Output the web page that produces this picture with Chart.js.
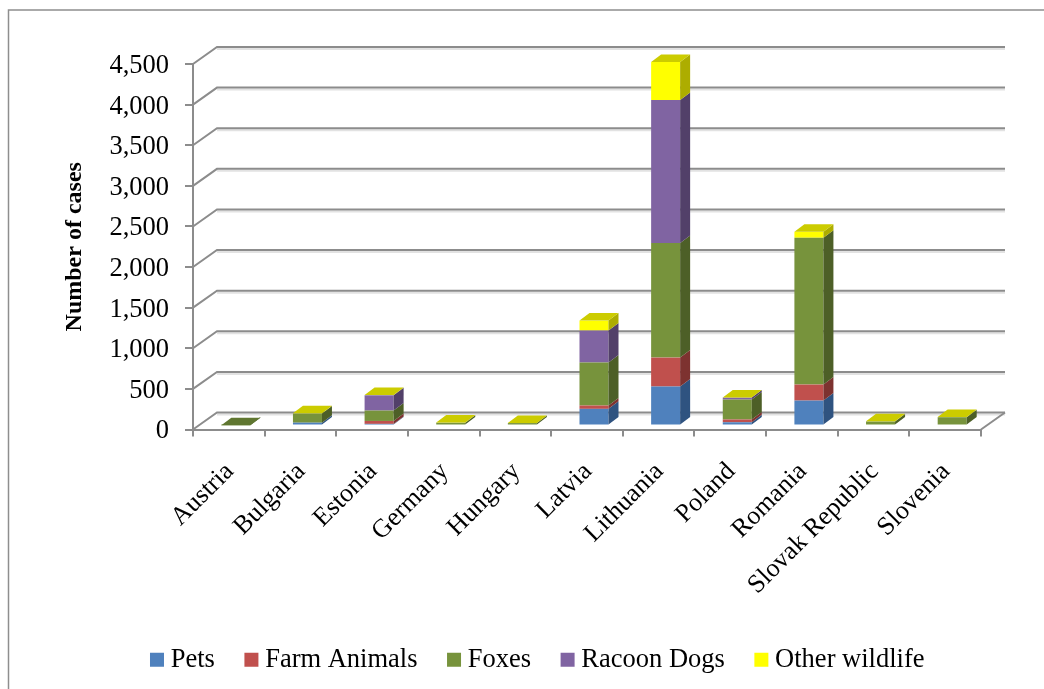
<!DOCTYPE html>
<html>
<head>
<meta charset="utf-8">
<style>
  html, body { margin: 0; padding: 0; background: #fff; overflow: hidden; }
  canvas { display: block; }
</style>
<script src="https://cdn.jsdelivr.net/npm/chart.js@4/dist/chart.umd.min.js"></script>
</head>
<body>
<canvas id="chart" width="1044" height="689"></canvas>
<script>
const categories = ['Austria', 'Bulgaria', 'Estonia', 'Germany', 'Hungary', 'Latvia', 'Lithuania', 'Poland', 'Romania', 'Slovak Republic', 'Slovenia'];
const pets = [0, 35, 20, 0, 0, 205, 480, 40, 307, 0, 0];
const farmAnimals = [0, 0, 36, 0, 0, 41, 356, 34, 197, 0, 0];
const foxes = [3, 113, 128, 35, 30, 530, 1412, 245, 1808, 50, 102];
const racoonDogs = [0, 0, 188, 0, 0, 393, 1760, 25, 0, 0, 0];
const otherWildlife = [0, 2, 2, 2, 2, 123, 467, 2, 73, 2, 2];

// face colours: front, side, top
const palette = {
  pets: ['#4F81BD', '#2F5380', '#3F6797'],
  farm: ['#C0504D', '#7D3230', '#9A403E'],
  foxes: ['#77933C', '#4D5F27', '#5F7630'],
  racoon: ['#8064A2', '#524069', '#665082'],
  other: ['#FFFF00', '#ADAD00', '#CCCC00']
};

// depth of the 3D box and of the whole plot
const barDepth = { x: 10, y: -7.5 };
const barShift = { x: 7, y: -4 };
const wallDepth = { x: 24, y: -17 };
const gridColor = '#8C8C8C';

function poly(ctx, pts, color) {
  ctx.fillStyle = color;
  ctx.beginPath();
  pts.forEach((p, i) => i ? ctx.lineTo(p[0], p[1]) : ctx.moveTo(p[0], p[1]));
  ctx.closePath();
  ctx.fill();
}

const frame3d = {
  id: 'frame3d',
  afterLayout(chart) {
    // legend sits right of centre in the original
    chart.legend.left += 20;
    chart.legend.right += 20;
    chart.legend.top += 2;
    chart.legend.bottom += 2;
  },
  beforeDraw(chart) {
    const { ctx } = chart;
    // the page frame only shows on the top and left
    ctx.save();
    ctx.strokeStyle = '#8E8E8E';
    ctx.lineWidth = 1.5;
    ctx.beginPath();
    ctx.moveTo(8.5, 689);
    ctx.lineTo(8.5, 10);
    ctx.lineTo(1044, 10);
    ctx.stroke();
    ctx.restore();
  },
  beforeDatasetsDraw(chart) {
    const { ctx, chartArea: a, scales: { y } } = chart;
    ctx.save();
    ctx.lineWidth = 2;
    y.ticks.forEach(t => {
      const py = y.getPixelForValue(t.value);
      ctx.strokeStyle = '#E2E2E2';
      ctx.beginPath();
      ctx.moveTo(a.left + wallDepth.x, py + wallDepth.y + 2);
      ctx.lineTo(a.right + wallDepth.x, py + wallDepth.y + 2);
      ctx.stroke();
      ctx.strokeStyle = gridColor;
      ctx.beginPath();
      ctx.moveTo(a.left, py);
      ctx.lineTo(a.left + wallDepth.x, py + wallDepth.y);
      ctx.lineTo(a.right + wallDepth.x, py + wallDepth.y);
      ctx.stroke();
    });
    // right edge of the floor
    ctx.beginPath();
    ctx.moveTo(a.right, a.bottom);
    ctx.lineTo(a.right + wallDepth.x, a.bottom + wallDepth.y);
    ctx.stroke();
    ctx.restore();
    ctx.save();
    ctx.translate(barShift.x, barShift.y);
  },
  afterDatasetsDraw(chart) {
    const { ctx } = chart;
    const n = chart.data.datasets.length;
    categories.forEach((c, i) => {
      let last = -1;
      for (let d = 0; d < n; d++) {
        if (chart.data.datasets[d].data[i] > 0) last = d;
      }
      for (let d = 0; d <= last; d++) {
        if (!(chart.data.datasets[d].data[i] > 0)) continue;
        const bar = chart.getDatasetMeta(d).data[i];
        const faces = chart.data.datasets[d].faces;
        const l = bar.x - bar.width / 2;
        const r = bar.x + bar.width / 2;
        const dx = barDepth.x, dy = barDepth.y;
        poly(ctx, [[r, bar.y], [r + dx, bar.y + dy], [r + dx, bar.base + dy], [r, bar.base]], faces[1]);
        if (d === last) {
          poly(ctx, [[l, bar.y], [l + dx, bar.y + dy], [r + dx, bar.y + dy], [r, bar.y]], faces[2]);
        }
      }
    });
    ctx.restore();
  }
};

new Chart(document.getElementById('chart'), {
  type: 'bar',
  plugins: [frame3d],
  data: {
    labels: categories,
    datasets: [
      { label: 'Pets', data: pets, backgroundColor: palette.pets[0], faces: palette.pets },
      { label: 'Farm Animals', data: farmAnimals, backgroundColor: palette.farm[0], faces: palette.farm },
      { label: 'Foxes', data: foxes, backgroundColor: palette.foxes[0], faces: palette.foxes },
      { label: 'Racoon Dogs', data: racoonDogs, backgroundColor: palette.racoon[0], faces: palette.racoon },
      { label: 'Other wildlife', data: otherWildlife, backgroundColor: palette.other[0], faces: palette.other }
    ]
  },
  options: {
    responsive: false,
    animation: false,
    events: [],
    clip: false,
    categoryPercentage: 1,
    barPercentage: 0.405,
    layout: { padding: { left: 60, right: 63, top: 64, bottom: 8 } },
    plugins: {
      tooltip: { enabled: false },
      legend: {
        position: 'bottom',
        labels: {
          usePointStyle: true,
          pointStyle: 'rect',
          boxWidth: 1,
          boxHeight: 14,
          padding: 36,
          color: '#000',
          font: { family: '"Liberation Serif"', size: 26.5 }
        }
      }
    },
    scales: {
      x: {
        stacked: true,
        grid: { drawOnChartArea: false, drawTicks: true, tickLength: 7, color: gridColor, lineWidth: 2 },
        border: { color: gridColor, width: 2 },
        ticks: {
          minRotation: 45,
          maxRotation: 45,
          padding: 20,
          labelOffset: 1,
          color: '#000',
          font: { family: '"Liberation Serif"', size: 26 }
        },
        afterFit(scale) { scale.height = 179; }
      },
      y: {
        stacked: true,
        min: 0,
        max: 4500,
        grid: { drawOnChartArea: false, drawTicks: true, tickLength: 8, color: gridColor, lineWidth: 2 },
        border: { color: gridColor, width: 2 },
        ticks: {
          stepSize: 500,
          padding: 16,
          labelOffset: 2,
          color: '#000',
          font: { family: '"Liberation Serif"', size: 26.5 },
          callback: v => v.toLocaleString('en-US')
        },
        title: {
          display: true,
          text: 'Number of cases',
          color: '#000',
          padding: 0,
          font: { family: '"Liberation Serif"', size: 24, weight: 'bold' }
        },
        afterFit(scale) { scale.width = 133; }
      }
    }
  }
});
</script>
</body>
</html>
